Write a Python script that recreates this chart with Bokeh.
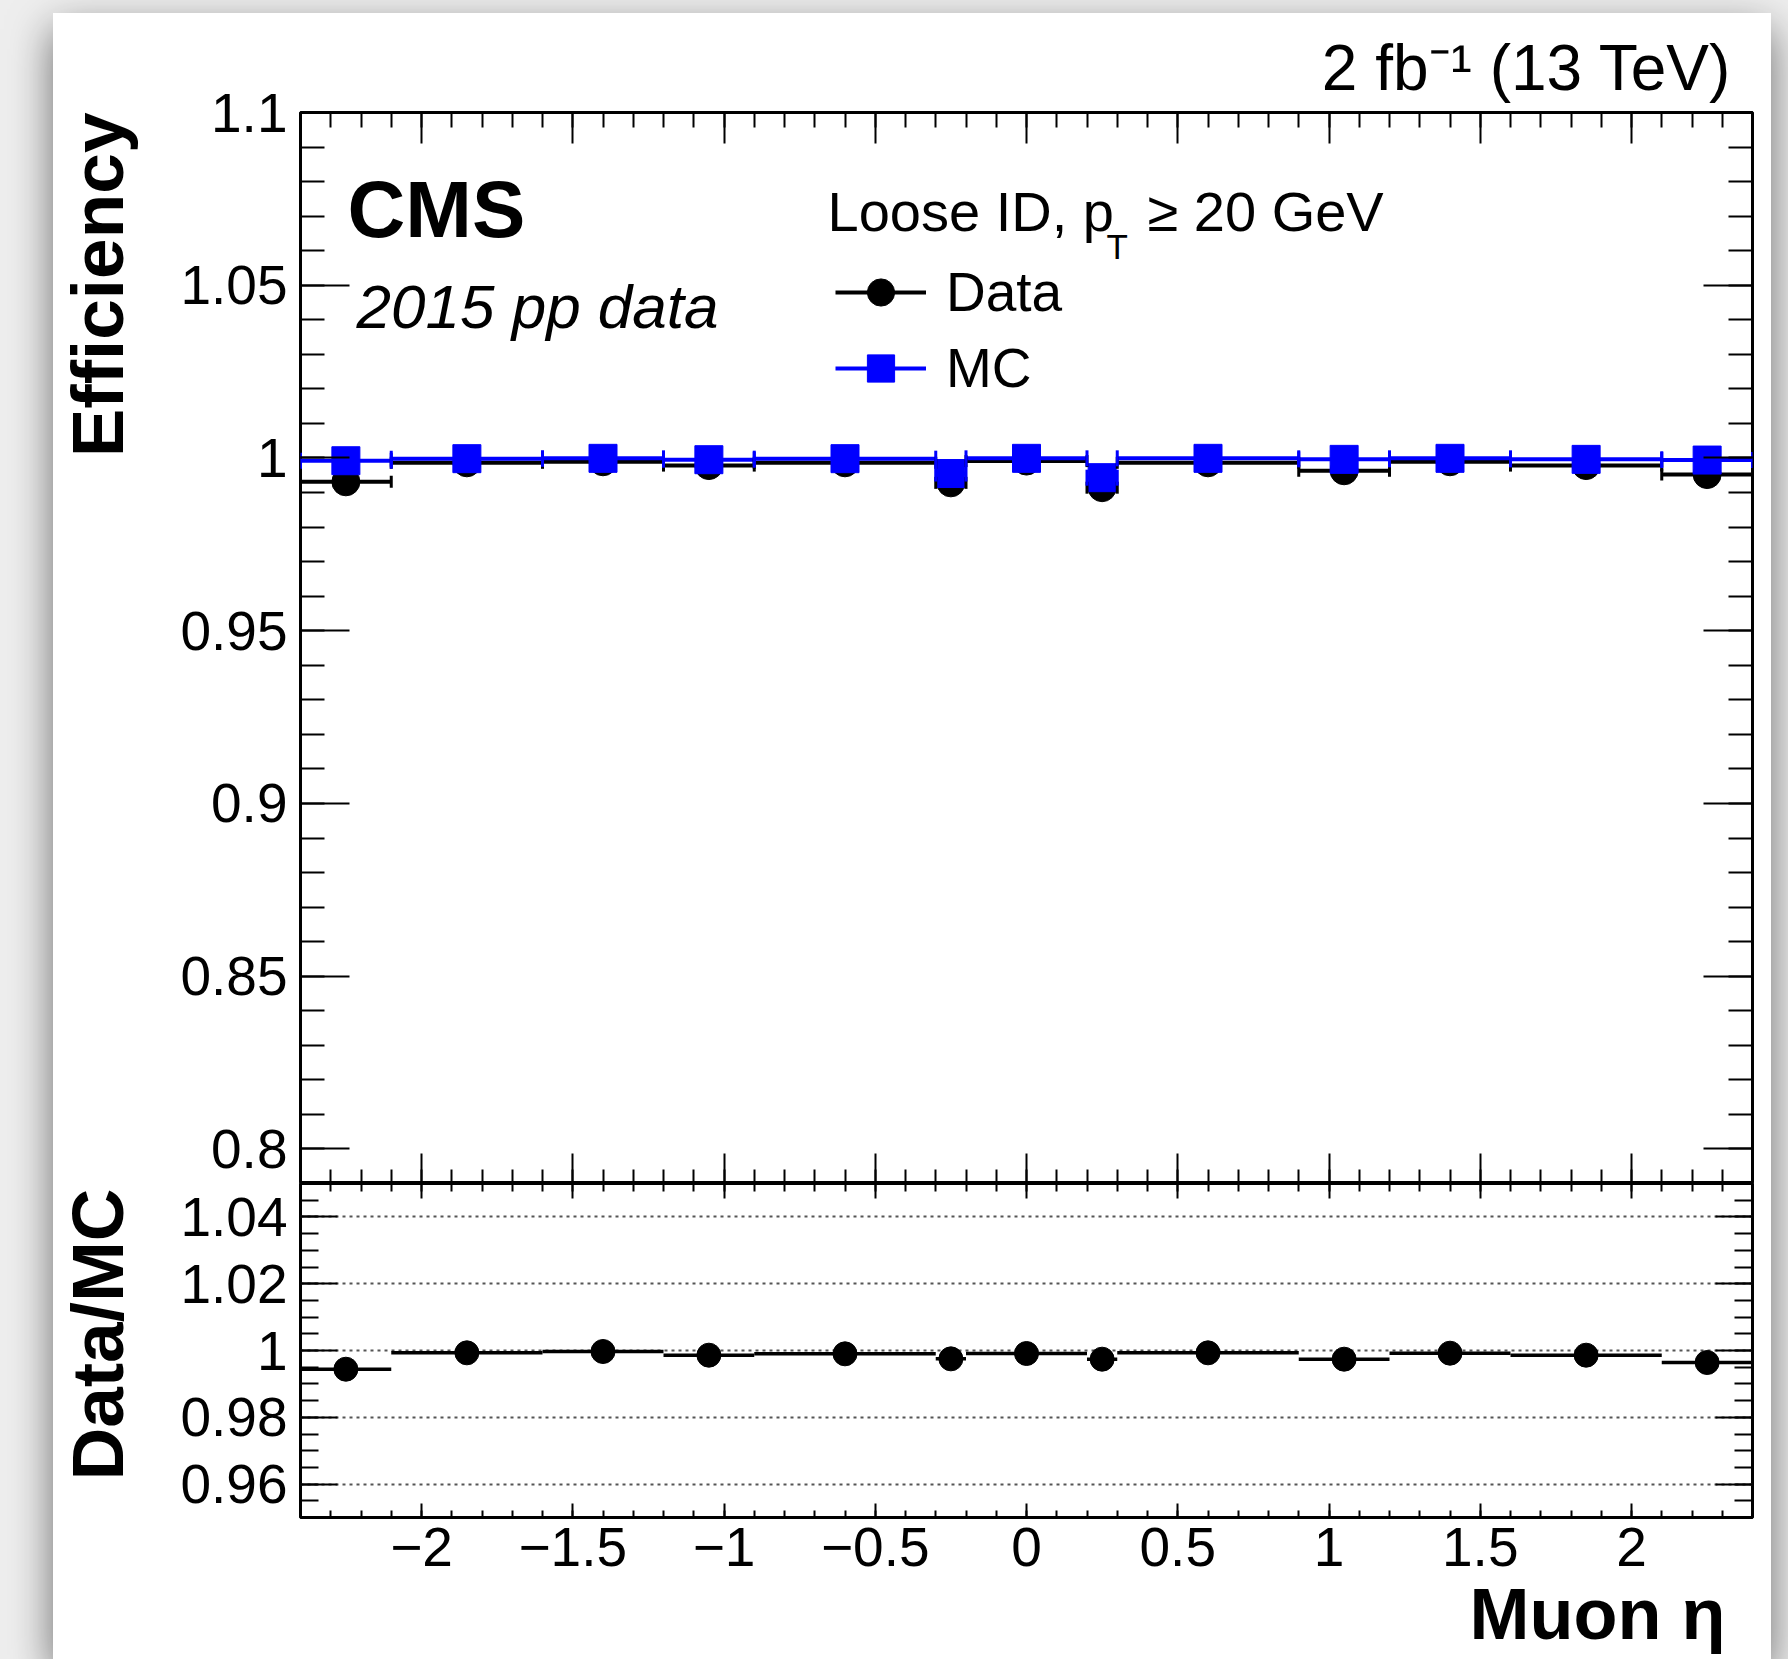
from bokeh.embed import file_html
from bokeh.resources import INLINE
from bokeh.plotting import figure
from bokeh.layouts import column, row
from bokeh.models import (ColumnDataSource, Range1d, LinearAxis, FixedTicker, Label,
                          Legend, LegendItem, Whisker, TeeHead, Spacer, Title,
                          CustomJSTickFormatter)

# ---- data: muon loose-ID efficiency vs eta ----
eta_lo = [-2.4, -2.1, -1.6, -1.2, -0.9, -0.3, -0.2, 0.2, 0.3, 0.9, 1.2, 1.6, 2.1]
eta_hi = [-2.1, -1.6, -1.2, -0.9, -0.3, -0.2, 0.2, 0.3, 0.9, 1.2, 1.6, 2.1, 2.4]
eta_center = [-2.25, -1.85, -1.4, -1.05, -0.6, -0.25, 0.0, 0.25, 0.6, 1.05, 1.4, 1.85, 2.25]
eff_data = [0.9931, 0.9986, 0.9989, 0.9978, 0.9986, 0.9928, 0.9991,
            0.9914, 0.9986, 0.9963, 0.9989, 0.9978, 0.9952]
eff_mc = [0.9992, 0.9998, 0.9999, 0.9995, 0.9998, 0.9955, 0.9999,
          0.9943, 0.9999, 0.9996, 0.9999, 0.9996, 0.9994]
ratio = [0.9944, 0.9993, 0.9997, 0.9986, 0.9990, 0.9975, 0.9991,
         0.9974, 0.9993, 0.9974, 0.9992, 0.9986, 0.9964]

# ---- axis ticks ----
x_major = [-2.0, -1.5, -1.0, -0.5, 0.0, 0.5, 1.0, 1.5, 2.0]
x_minor = [round(-2.4 + 0.1 * i, 2) for i in range(49)]
eff_major = [0.8, 0.85, 0.9, 0.95, 1.0, 1.05, 1.1]
eff_minor = [round(0.79 + 0.01 * i, 2) for i in range(32)]
ratio_major = [0.96, 0.98, 1.0, 1.02, 1.04]
ratio_minor = [round(0.95 + 0.005 * i, 3) for i in range(21)]

FONT = "Liberation Sans"
BLUE = "#0000ff"

src_data = ColumnDataSource(dict(lo=eta_lo, hi=eta_hi, x=eta_center, y=eff_data))
src_mc = ColumnDataSource(dict(lo=eta_lo, hi=eta_hi, x=eta_center, y=eff_mc))
src_ratio = ColumnDataSource(dict(lo=eta_lo, hi=eta_hi, x=eta_center, y=ratio))

label_fmt = CustomJSTickFormatter(
    code="return (Math.round(tick*1000)/1000).toString().replace('-', '\\u2212');")


def frame_axis(fig, side, major, minor, tick_in, minor_in, labelled=False, standoff=0):
    ax = LinearAxis(ticker=FixedTicker(ticks=major, minor_ticks=minor),
                    major_tick_in=tick_in, major_tick_out=0,
                    minor_tick_in=minor_in, minor_tick_out=0,
                    major_tick_line_width=2, minor_tick_line_width=2,
                    major_tick_line_color="black", minor_tick_line_color="black",
                    axis_line_color=None, axis_label=None)
    if labelled:
        ax.formatter = label_fmt
        ax.major_label_text_font = FONT
        ax.major_label_text_font_size = "55px"
        ax.major_label_text_color = "black"
        ax.major_label_standoff = standoff
    else:
        ax.formatter = CustomJSTickFormatter(code="return '';")
        ax.major_label_text_font_size = "1px"
        ax.major_label_standoff = 0
    fig.add_layout(ax, side)
    return ax


def blank_strip(fig, side, width, at):
    # invisible axis whose outward ticks only reserve room between labels and title
    ax = LinearAxis(ticker=FixedTicker(ticks=[at]), major_tick_in=0, major_tick_out=width,
                    minor_tick_in=0, minor_tick_out=0,
                    major_tick_line_color=None, minor_tick_line_color=None,
                    axis_line_color=None, axis_label=None,
                    formatter=CustomJSTickFormatter(code="return '';"),
                    major_label_text_font_size="1px", major_label_standoff=0)
    fig.add_layout(ax, side)


def axis_title(fig, side, s, offset, standoff, size=73):
    # bold axis title flush with the high end of the axis (ROOT style)
    fig.add_layout(Title(text=s, align="right", offset=offset, standoff=standoff,
                         vertical_align="bottom", text_font=FONT,
                         text_font_size=f"{size}px", text_font_style="bold",
                         text_color="black"), side)


def text(fig, s, x, baseline, size, style="normal", align="left"):
    # x, baseline in pixels from the frame's lower-left corner
    fig.add_layout(Label(x=x, y=baseline + 0.3465 * size, x_units="screen", y_units="screen",
                         text=s, text_font=FONT, text_font_size=f"{size}px",
                         text_font_style=style, text_align=align,
                         text_baseline="middle", text_color="black"))


def make_fig(height, y_range, border_top, border_bottom):
    fig = figure(width=1718, height=height, x_range=Range1d(-2.4, 2.4), y_range=y_range,
                 output_backend="svg", toolbar_location=None,
                 x_axis_location=None, y_axis_location=None,
                 min_border_left=247, min_border_right=19,
                 min_border_top=border_top, min_border_bottom=border_bottom,
                 background_fill_color="white", border_fill_color="white",
                 outline_line_color="black", outline_line_width=3)
    fig.xgrid.visible = False
    fig.ygrid.visible = False
    return fig


# ---- efficiency panel ----
p = make_fig(1170, Range1d(0.79, 1.1), 99, 0)
frame_axis(p, "left", eff_major, eff_minor, 49, 24, labelled=True, standoff=13)
blank_strip(p, "left", 40, 1.0)
axis_title(p, "left", "Efficiency", 0, 0)
frame_axis(p, "right", eff_major, eff_minor, 49, 24)
frame_axis(p, "above", x_major, x_minor, 31, 15)
frame_axis(p, "below", x_major, x_minor, 30, 14)

p.add_layout(Title(text="2 fb\u207b\u00b9 (13 TeV)", align="right", offset=21,
                   standoff=17, vertical_align="bottom", text_font=FONT,
                   text_font_size="64px", text_font_style="normal",
                   text_color="black"), "above")

r_dbar = p.segment(x0="lo", x1="hi", y0="y", y1="y", source=src_data,
                   line_color="black", line_width=4)
p.add_layout(Whisker(source=src_data, base="y", lower="lo", upper="hi", dimension="width",
                     line_alpha=0, level="glyph",
                     lower_head=TeeHead(size=12, line_color="black", line_width=3),
                     upper_head=TeeHead(size=12, line_color="black", line_width=3)))
r_dpt = p.scatter(x="x", y="y", source=src_data, marker="circle", size=28,
                  fill_color="black", line_color="black")

r_mbar = p.segment(x0="lo", x1="hi", y0="y", y1="y", source=src_mc,
                   line_color=BLUE, line_width=4)
p.add_layout(Whisker(source=src_mc, base="y", lower="lo", upper="hi", dimension="width",
                     line_alpha=0, level="glyph",
                     lower_head=TeeHead(size=16, line_color=BLUE, line_width=3),
                     upper_head=TeeHead(size=16, line_color=BLUE, line_width=3)))
r_mpt = p.scatter(x="x", y="y", source=src_mc, marker="square", size=28,
                  fill_color=BLUE, line_color=BLUE)

legend = Legend(items=[LegendItem(label="Data", renderers=[r_dbar, r_dpt]),
                       LegendItem(label="MC", renderers=[r_mbar, r_mpt])],
                location=(535, 781), orientation="vertical",
                glyph_width=91, glyph_height=68, label_height=68, spacing=8,
                label_standoff=20, padding=0, margin=0,
                border_line_color=None, background_fill_alpha=0,
                label_text_font=FONT, label_text_font_size="55px",
                label_text_color="black")
p.add_layout(legend)

text(p, "CMS", 47, 946, 80, style="bold")
text(p, "2015 pp data", 56, 856, 62, style="italic")
text(p, "Loose ID, p", 527, 953, 56)
text(p, "T", 806, 925, 35)
text(p, "\u2265 20 GeV", 847, 953, 56)

# ---- ratio panel ----
q = make_fig(476, Range1d(0.95, 1.05), 0, 142)
frame_axis(q, "left", ratio_major, ratio_minor, 37, 18, labelled=True, standoff=13)
blank_strip(q, "left", 40, 1.0)
axis_title(q, "left", "Data/MC", 5, 0)
frame_axis(q, "right", ratio_major, ratio_minor, 37, 18)
frame_axis(q, "above", x_major, x_minor, 15, 8)
frame_axis(q, "below", x_major, x_minor, 14, 7, labelled=True, standoff=10)
axis_title(q, "below", "Muon \u03b7", 27, 6, size=72)

q.ygrid.visible = True
q.ygrid.ticker = FixedTicker(ticks=ratio_major)
q.ygrid.grid_line_color = "#555555"
q.ygrid.grid_line_width = 2
q.ygrid.grid_line_dash = "3 4"

q.segment(x0="lo", x1="hi", y0="y", y1="y", source=src_ratio,
          line_color="black", line_width=3.5)
q.scatter(x="x", y="y", source=src_ratio, marker="circle", size=24,
          fill_color="black", line_color="black")

# ---- page: white card with a soft shadow on a grey backdrop ----
card = column(p, q, styles={"box-shadow": "0 16px 40px rgba(0,0,0,0.55)",
                            "background-color": "white"})
page = row(Spacer(width=53, height=1659),
           column(Spacer(width=1718, height=13), card),
           Spacer(width=17, height=1659),
           styles={"background-color": "#eeeeee"})

open("out.html", "w").write(file_html(page, INLINE, title="Muon efficiency"))
